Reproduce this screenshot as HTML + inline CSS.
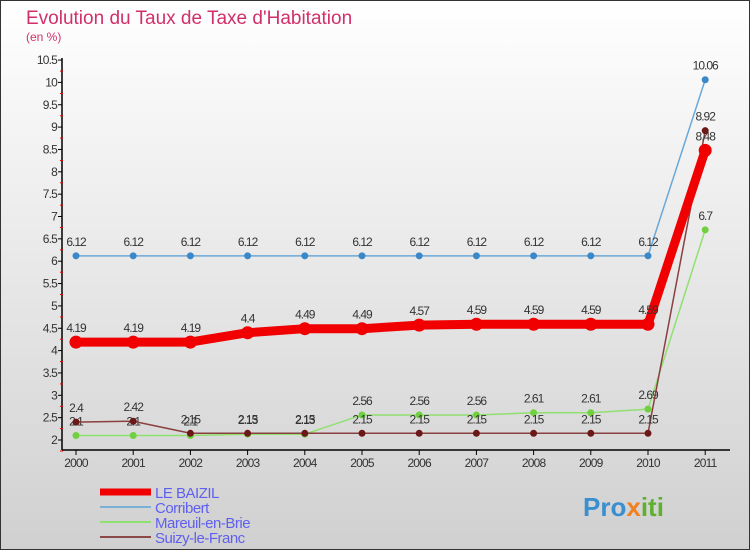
<!DOCTYPE html>
<html><head><meta charset="utf-8"><style>
body{margin:0;width:750px;height:550px;overflow:hidden}
svg{display:block;font-family:"Liberation Sans",sans-serif}
</style></head><body>
<svg id="c" width="750" height="550">
<defs><linearGradient id="bg" x1="0" y1="0" x2="0" y2="1"><stop offset="0" stop-color="#ffffff"/><stop offset="1" stop-color="#d0d0d0"/></linearGradient></defs>
<rect x="0.5" y="0.5" width="749" height="549" fill="url(#bg)" stroke="#333"/>
<text x="26" y="24" font-size="19" fill="#d0306a">Evolution du Taux de Taxe d'Habitation</text>
<text x="26" y="41" font-size="12" fill="#d0306a">(en %)</text>
<g id="axes"></g><g id="series"></g><g id="legend"></g>
<text x="583" y="516" font-size="26" font-weight="bold" fill="#3a8fd0">Pro<tspan fill="#f08020">x</tspan><tspan fill="#60b030">iti</tspan></text>
</svg>
<script>
const years=["2000","2001","2002","2003","2004","2005","2006","2007","2008","2009","2010","2011"];
const baizil=[4.19,4.19,4.19,4.4,4.49,4.49,4.57,4.59,4.59,4.59,4.59,8.48];
const corribert=[6.12,6.12,6.12,6.12,6.12,6.12,6.12,6.12,6.12,6.12,6.12,10.06];
const mareuil=[2.1,2.1,2.1,2.13,2.13,2.56,2.56,2.56,2.61,2.61,2.69,6.7];
const suizy=[2.4,2.42,2.15,2.15,2.15,2.15,2.15,2.15,2.15,2.15,2.15,8.92];
const yTicks=[2,2.5,3,3.5,4,4.5,5,5.5,6,6.5,7,7.5,8,8.5,9,9.5,10,10.5];
const NS="http://www.w3.org/2000/svg";
const X=i=>76+i*57.2, Y=v=>440-(v-2)*44.7;
function mk(p,t,a){const e=document.createElementNS(NS,t);for(const k in a)e.setAttribute(k,a[k]);p.appendChild(e);return e;}
const ax=document.getElementById('axes');
let l=mk(ax,'line',{x1:62,y1:58,x2:62,y2:450,stroke:'#000','stroke-width':1.5});


l=mk(ax,'line',{x1:62,y1:450,x2:730,y2:450,stroke:'#000','stroke-width':1.5});


yTicks.forEach(v=>{
 mk(ax,'line',{x1:58,y1:Y(v),x2:62,y2:Y(v),stroke:'#000'});
 mk(ax,'line',{x1:60,y1:Y(v)+11,x2:63,y2:Y(v)+11,stroke:'#e00'});
 const t=mk(ax,'text',{x:57,y:Y(v)+4,'text-anchor':'end','font-size':12,fill:'#333','letter-spacing':'-0.8'});
 t.textContent=String(v);
 
 
});
years.forEach((y,i)=>{
 mk(ax,'line',{x1:X(i),y1:450,x2:X(i),y2:455,stroke:'#000'});
 const t=mk(ax,'text',{x:X(i),y:467,'text-anchor':'middle','font-size':12,fill:'#333','letter-spacing':'-0.8'});
 t.textContent=y;
 
 
});
const sg=document.getElementById('series');
function series(d,col,dot,w,r,name){
 const g=mk(sg,'g',{});
 
 
 mk(g,'polyline',{points:d.map((v,i)=>X(i)+','+Y(v)).join(' '),fill:'none',stroke:col,'stroke-width':w,'stroke-linejoin':'round'});
 d.forEach((v,i)=>{
  const c=mk(g,'circle',{cx:X(i),cy:Y(v),r:r,fill:dot});
  
  
  const t=mk(g,'text',{x:X(i),y:Y(v)-10,'text-anchor':'middle','font-size':12,fill:'#333','letter-spacing':'-1'});
  t.textContent=String(v);
  
  
 });
}
series(corribert,'#6aa8d8','#3a88c8',1.5,3.5,'series-corribert');
series(mareuil,'#90e070','#70d040',1.5,3.5,'series-mareuil');
series(suizy,'#8a4040','#6a1818',1.5,3.5,'series-suizy');
series(baizil,'#f00000','#f00000',9,6.5,'series-le-baizil');
const lg=document.getElementById('legend');
[['LE BAIZIL','#f00000',7],['Corribert','#7ab0d8',2],['Mareuil-en-Brie','#90e070',2],['Suizy-le-Franc','#8a4848',2]].forEach((e,i)=>{
 const y=492+i*15;
 const g=mk(lg,'g',{});
 
 
 mk(g,'line',{x1:100,y1:y,x2:151,y2:y,stroke:e[1],'stroke-width':e[2]});
 const t=mk(g,'text',{x:155,y:y+6,'font-size':15,fill:'#6060f0','letter-spacing':'-0.5'});
 t.textContent=e[0];
});
</script>
</body></html>
